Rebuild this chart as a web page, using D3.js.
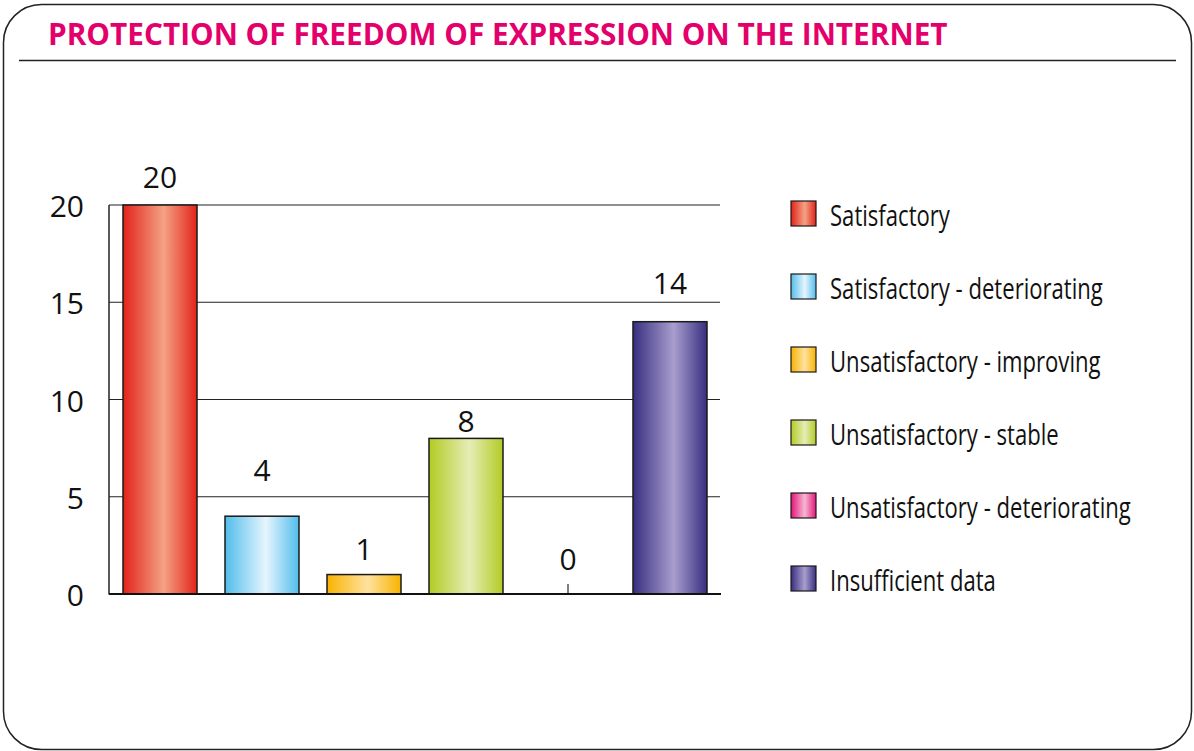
<!DOCTYPE html>
<html><head><meta charset="utf-8">
<script src="https://cdn.jsdelivr.net/npm/d3@7"></script>
<style>html,body{margin:0;padding:0;background:#fff;}</style>
</head><body>
<svg id="chart" width="1194" height="751"></svg>
<script>
const title = "PROTECTION OF FREEDOM OF EXPRESSION ON THE INTERNET";
const categories = ["Satisfactory", "Satisfactory - deteriorating", "Unsatisfactory - improving", "Unsatisfactory - stable", "Unsatisfactory - deteriorating", "Insufficient data"];
const values = [20, 4, 1, 8, 0, 14];
const edgeColors = ["#e2231a", "#52bdeb", "#f8b200", "#b3cb24", "#e5157a", "#382e80"];
const midColors = ["#f4a285", "#e6f5fd", "#ffe2a0", "#e5edb6", "#f7b7d3", "#a99ecd"];
const yTicks = [0, 5, 10, 15, 20];

// layout: how far each value label sits above its bar (px), as placed in the original
const labelLift = [17, 35, 15, 6, 24, 28];

const svg = d3.select("#chart");

// frame
svg.append("rect").attr("x", 3.5).attr("y", 4.5).attr("width", 1188).attr("height", 745)
  .attr("rx", 38).attr("ry", 38).attr("fill", "#fff").attr("stroke", "#222").attr("stroke-width", 1.5);

// title
const t = svg.append("text").attr("x", 48).attr("y", 45).text(title)
  .attr("font-family", "'Open Sans', 'Noto Sans', sans-serif").attr("font-weight", 700)
  .attr("font-size", 29).attr("fill", "#e4006b");
const tl = t.node().getComputedTextLength();
t.attr("font-size", 29 * 900 / tl);
svg.append("line").attr("x1", 19).attr("x2", 1176).attr("y1", 60.5).attr("y2", 60.5)
  .attr("stroke", "#222").attr("stroke-width", 1.3);

// gradients
const defs = svg.append("defs");
categories.forEach((c, i) => {
  const g = defs.append("linearGradient").attr("id", "g" + i).attr("x1", "0%").attr("x2", "100%").attr("y1", "0%").attr("y2", "0%");
  g.append("stop").attr("offset", "0%").attr("stop-color", edgeColors[i]);
  g.append("stop").attr("offset", "55%").attr("stop-color", midColors[i]);
  g.append("stop").attr("offset", "100%").attr("stop-color", edgeColors[i]);
});

const x = d3.scaleBand().domain(categories).range([109, 721]).paddingInner(0.2745).paddingOuter(0.1373);
const y = d3.scaleLinear().domain([0, 20]).range([594, 205]);

// gridlines
svg.append("g").selectAll("line").data(yTicks.filter(d => d > 0)).join("line")
  .attr("x1", 109).attr("x2", 720).attr("y1", d => y(d)).attr("y2", d => y(d))
  .attr("stroke", "#222").attr("stroke-width", 1.2);

// y tick labels
svg.append("g").selectAll("text").data(yTicks).join("text")
  .attr("x", 84).attr("y", d => y(d) + 12).attr("text-anchor", "end")
  .attr("font-family", "'Open Sans', sans-serif").attr("font-size", 30).attr("fill", "#111")
  .text(d => d);

// bars
svg.append("g").selectAll("rect").data(values).join("rect")
  .attr("x", (d, i) => x(categories[i])).attr("width", x.bandwidth())
  .attr("y", d => y(d)).attr("height", d => y(0) - y(d))
  .attr("fill", (d, i) => `url(#g${i})`)
  .attr("stroke", "#1a1a1a").attr("stroke-width", d => d > 0 ? 1.5 : 0);

// zero marker
svg.append("g").selectAll("line").data(values.map((v, i) => [v, i]).filter(d => d[0] === 0)).join("line")
  .attr("x1", d => x(categories[d[1]]) + x.bandwidth() / 2).attr("x2", d => x(categories[d[1]]) + x.bandwidth() / 2)
  .attr("y1", y(0) - 10).attr("y2", y(0)).attr("stroke", "#555").attr("stroke-width", 1.5);

// value labels
svg.append("g").selectAll("text").data(values).join("text")
  .attr("x", (d, i) => x(categories[i]) + x.bandwidth() / 2).attr("y", (d, i) => y(d) - labelLift[i])
  .attr("text-anchor", "middle")
  .attr("font-family", "'Open Sans', sans-serif").attr("font-size", 30).attr("fill", "#111")
  .text(d => d);

// axes
svg.append("line").attr("x1", 109).attr("x2", 109).attr("y1", 205).attr("y2", 594.5)
  .attr("stroke", "#222").attr("stroke-width", 1.5);
svg.append("line").attr("x1", 109).attr("x2", 721).attr("y1", 594).attr("y2", 594)
  .attr("stroke", "#111").attr("stroke-width", 2);

// legend
const lg = svg.append("g").selectAll("g").data(categories).join("g")
  .attr("transform", (d, i) => `translate(791, ${201 + i * 73})`);
lg.append("rect").attr("x", 0).attr("y", 0).attr("width", 25).attr("height", 25)
  .attr("fill", (d, i) => `url(#g${i})`).attr("stroke", "#1a1a1a").attr("stroke-width", 1.2);
const lt = lg.append("text").attr("x", 0).attr("y", 0)
  .attr("font-family", "'Open Sans', sans-serif")
  .attr("font-size", 30).attr("fill", "#111").text(d => d);
// condense text horizontally to match the narrow face of the original
const refW = lt.filter((d, i) => i === 1).node().getComputedTextLength();
const sx = 273 / refW;
lt.attr("transform", `translate(39, 25) scale(${sx}, 1)`);
</script>
</body></html>
